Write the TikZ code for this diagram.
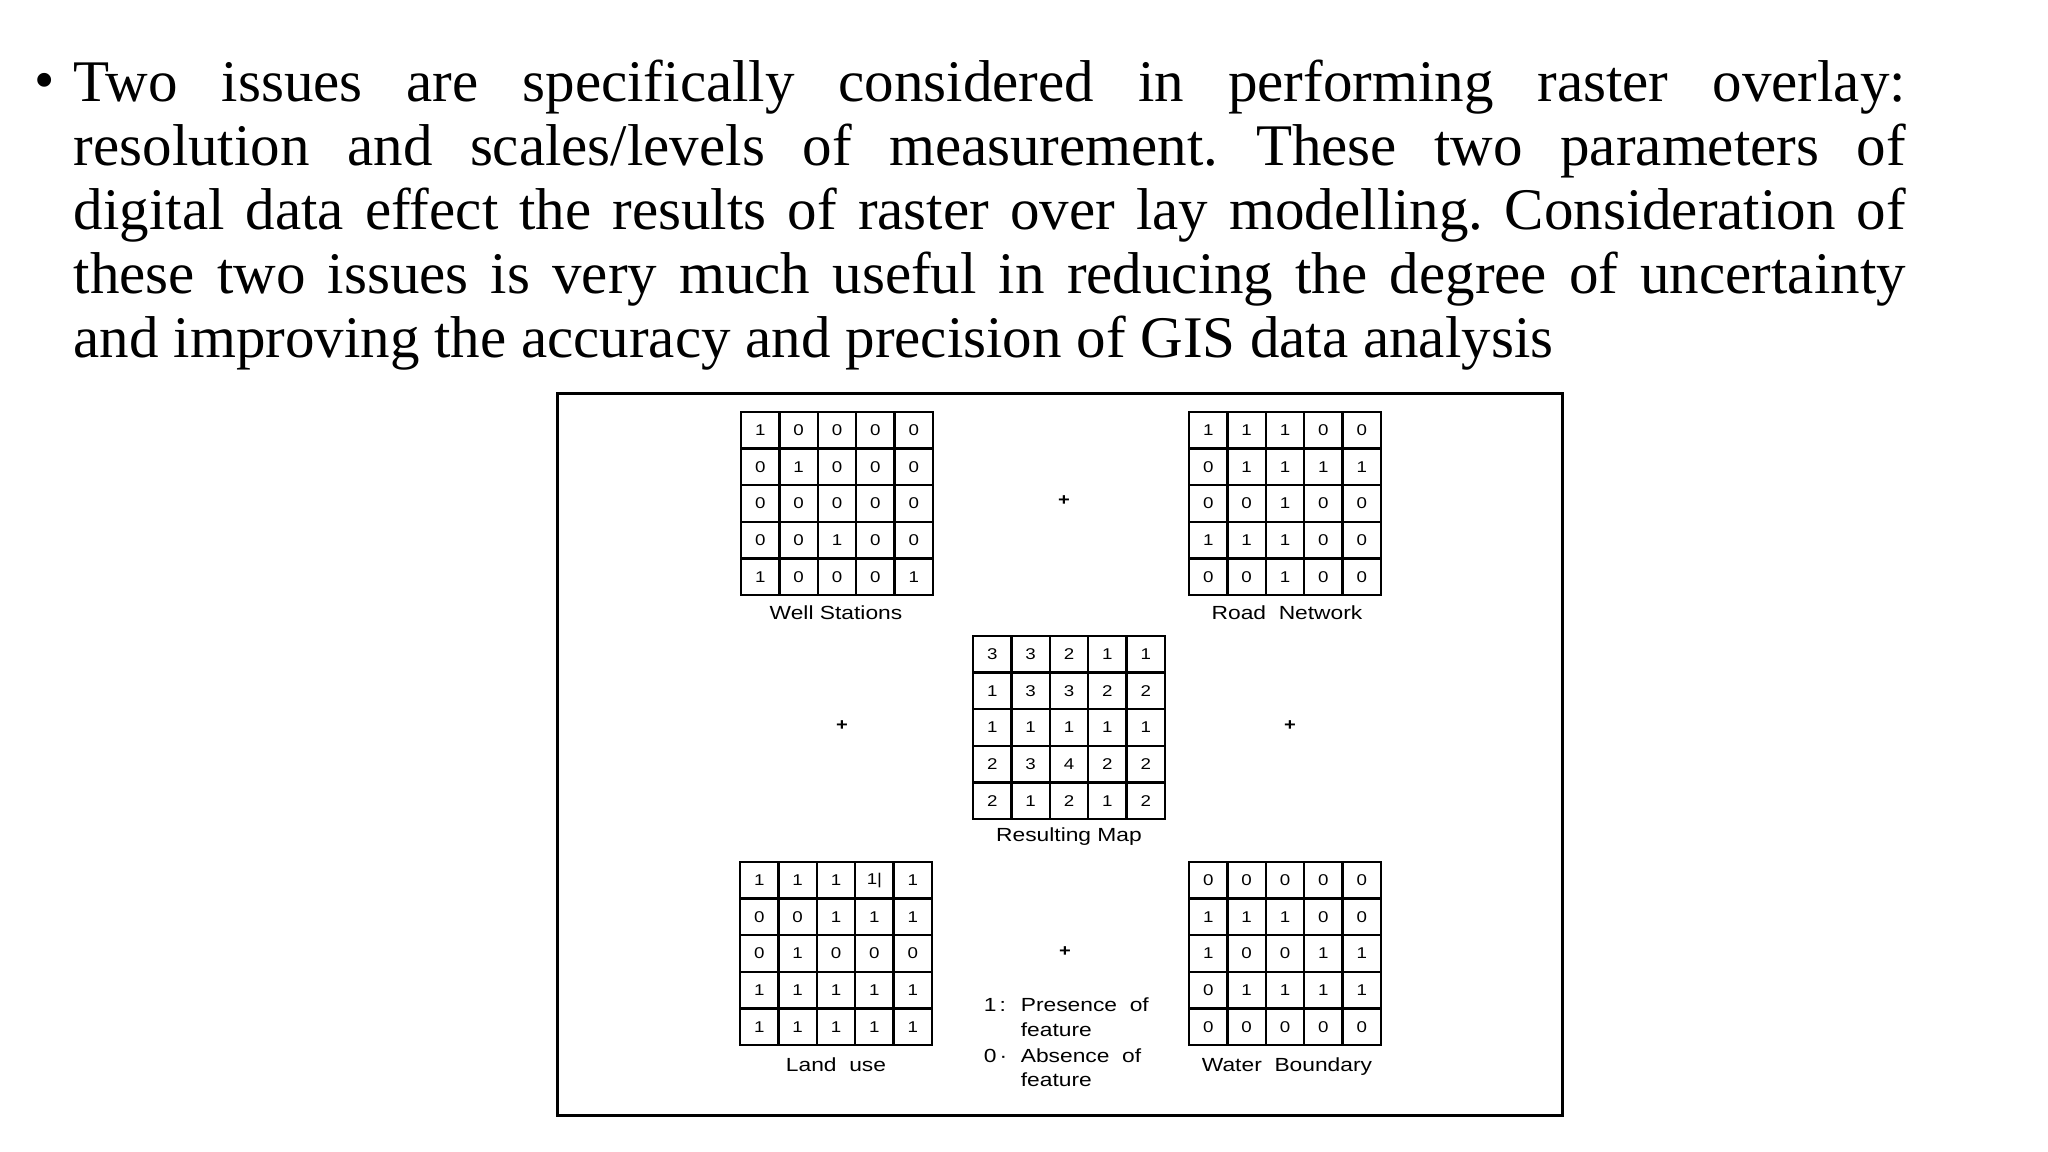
\documentclass[tikz,border=0pt]{standalone}
\usepackage{fontspec}
\setmainfont{Liberation Serif}
\newfontfamily\diagfont[FakeStretch=1.2]{Liberation Sans}
\frenchspacing
\tikzset{
  cell/.style={draw, line width=0.6pt, minimum width=9.6pt, minimum height=9.15pt,
    inner sep=0pt, font=\diagfont\fontsize{3.9pt}{4.2pt}\selectfont},
  lbl/.style={font=\diagfont\fontsize{4.75pt}{5.5pt}\selectfont, inner sep=0pt, anchor=base},
  plussign/.style={font=\diagfont\bfseries\fontsize{4.2pt}{5pt}\selectfont, inner sep=0pt},
  frame/.style={draw, line width=0.75pt, inner sep=0pt},
}
% #1 name, #2 left x, #3 top y, #4 25 values row by row
\newcommand\rastergrid[4]{%
  \foreach \v [count=\i from 0] in {#4} {
    \pgfmathtruncatemacro\rr{\i/5}
    \pgfmathtruncatemacro\cc{mod(\i,5)}
    \node[cell] (#1-\rr-\cc) at ({#2+(\cc+0.5)*38.4},{#3+(\rr+0.5)*36.6}) {\v};
  }%
}
\begin{document}
\begin{tikzpicture}[x=0.25pt, y=-0.25pt]
\useasboundingbox (0,0) rectangle (2048,1152);
\fill[white] (0,0) rectangle (2048,1152);

% bullet and paragraph
\node[inner sep=0pt, anchor=base, font=\fontsize{14.5pt}{15pt}\selectfont] (bullet) at (45,100) {\textbullet};
\node[anchor=base west, inner sep=0pt, text width=458pt, align=justify,
      font=\fontsize{14.75pt}{16pt}\selectfont] (para) at (73,102)
 {Two issues are specifically considered in performing raster overlay:\linebreak
  resolution and scales/levels of measurement. These two parameters of\linebreak
  digital data effect the results of raster over lay modelling. Consideration of\linebreak
  these two issues is very much useful in reducing the degree of uncertainty\linebreak
  and improving the accuracy and precision of GIS data analysis};

% frame
\node[frame, minimum width=251.25pt, minimum height=180.5pt] (box) at (1059.5,755) {};

% grids
\rastergrid{well}{741}{412}{1,0,0,0,0, 0,1,0,0,0, 0,0,0,0,0, 0,0,1,0,0, 1,0,0,0,1}
\rastergrid{road}{1189}{412}{1,1,1,0,0, 0,1,1,1,1, 0,0,1,0,0, 1,1,1,0,0, 0,0,1,0,0}
\rastergrid{res}{973}{636}{3,3,2,1,1, 1,3,3,2,2, 1,1,1,1,1, 2,3,4,2,2, 2,1,2,1,2}
\rastergrid{land}{740}{862}{1,1,1,1|,1, 0,0,1,1,1, 0,1,0,0,0, 1,1,1,1,1, 1,1,1,1,1}
\rastergrid{water}{1189}{862}{0,0,0,0,0, 1,1,1,0,0, 1,0,0,1,1, 0,1,1,1,1, 0,0,0,0,0}

% labels
\node[lbl] (well-lbl) at (836,620) {Well Stations};
\node[lbl] (road-lbl) at (1287,620) {Road\ \ Network};
\node[lbl] (res-lbl) at (1069,842) {Resulting Map};
\node[lbl] (land-lbl) at (836,1072) {Land\ \ use};
\node[lbl] (water-lbl) at (1287,1072) {Water\ \ Boundary};

% plus signs
\node[plussign] (plus-top) at (1064,501) {+};
\node[plussign] (plus-left) at (842,726) {+};
\node[plussign] (plus-right) at (1290,726) {+};
\node[plussign] (plus-bottom) at (1065,952) {+};

% legend
\node[lbl, anchor=base west] (key1) at (983,1012) {1\,:};
\node[lbl, anchor=base west] (pres1) at (1020,1012) {Presence\ \ of};
\node[lbl, anchor=base west] (pres2) at (1020,1037) {feature};
\node[lbl, anchor=base west] (key0) at (983,1063) {0\,·};
\node[lbl, anchor=base west] (abs1) at (1020,1063) {Absence\ \ of};
\node[lbl, anchor=base west] (abs2) at (1020,1087) {feature};
\end{tikzpicture}
\end{document}
